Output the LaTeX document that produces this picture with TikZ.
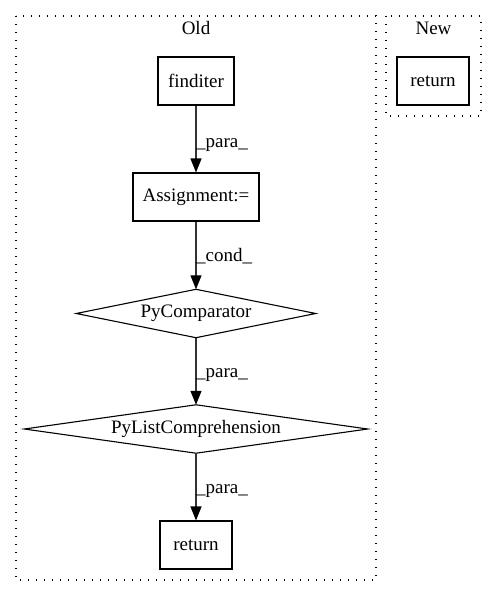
\documentclass[tikz,border=0pt]{standalone}
\usepackage{fontspec}
\setmainfont{Liberation Serif}
\usetikzlibrary{arrows.meta}
\begin{document}
\begin{tikzpicture}[x=1pt,y=-1pt,
  every node/.style={font=\fontsize{19}{22}\selectfont},
  cluster/.style={draw=black, line width=1.2pt, dash pattern=on 1.2pt off 6.8pt},
  boxnode/.style={draw, line width=1.1pt, minimum width=#1, minimum height=48, inner sep=0pt},
  dnode/.style={minimum width=#1, minimum height=48, inner sep=0pt},
  dshape/.style={draw, line width=1.1pt},
  edge/.style={draw=black!80, line width=1.2pt, -{Triangle[length=14pt,width=11pt,fill=black,color=black]}},
  elabel/.style={anchor=base west, inner sep=0pt}
]
\useasboundingbox (0,0) rectangle (496,596);
% clusters
\draw[cluster] (16,16) rectangle (376,580);
\draw[cluster] (386,16) rectangle (481,116);
\node[anchor=base, inner sep=0pt] (oldlbl) at (196,35) {Old};
\node[anchor=base, inner sep=0pt] (newlbl) at (433.5,35) {New};
% nodes
\node[boxnode=76] (finditer) at (196,81) {finditer};
\node[boxnode=126] (assign) at (196,197) {Assignment:=};
\node[dnode=239] (pycomp) at (196,313.5) {PyComparator};
\node[dnode=343] (pylist) at (196,429) {PyListComprehension};
\node[boxnode=72] (ret) at (196,545) {return};
\node[boxnode=72] (newret) at (433,81) {return};
\draw[dshape] (pycomp.north) -- (pycomp.east) -- (pycomp.south) -- (pycomp.west) -- cycle;
\draw[dshape] (pylist.north) -- (pylist.east) -- (pylist.south) -- (pylist.west) -- cycle;
% edges
\draw[edge] (finditer) -- (assign);
\draw[edge] (assign) -- (pycomp.north);
\draw[edge] (pycomp.south) -- (pylist.north);
\draw[edge] (pylist.south) -- (ret);
% edge labels
\node[elabel] (l1) at (196,148) {\_para\_};
\node[elabel] (l2) at (196,261) {\_cond\_};
\node[elabel] (l3) at (196,377) {\_para\_};
\node[elabel] (l4) at (196,493) {\_para\_};
\end{tikzpicture}
\end{document}
